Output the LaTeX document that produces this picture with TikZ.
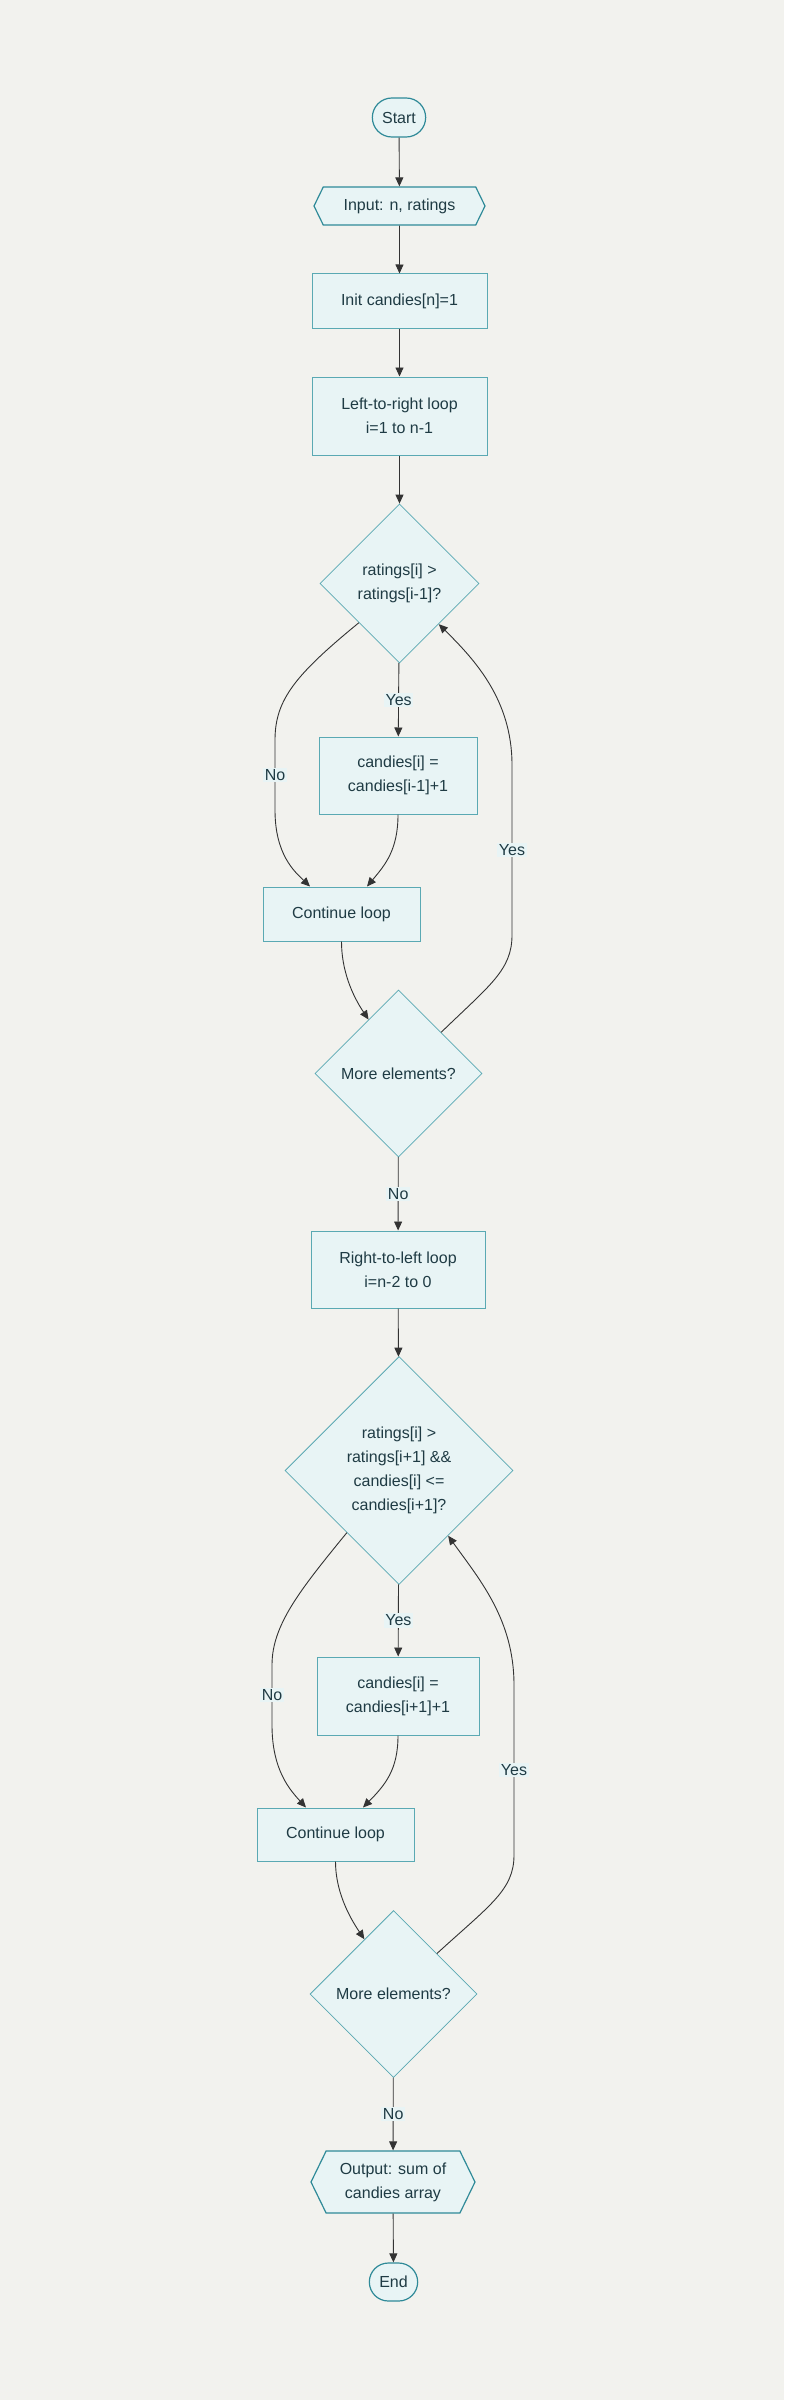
\documentclass[tikz,border=0pt]{standalone}
\usepackage{fontspec}
\setmainfont{Liberation Sans}
\usepackage{tikz}
\usetikzlibrary{positioning}
\usetikzlibrary{shapes.geometric,shapes.misc,shapes.symbols}
\usetikzlibrary{arrows.meta}
\definecolor{bgcol}{HTML}{F2F2EE}
\definecolor{nodefill}{HTML}{E8F4F5}
\definecolor{nodeline}{HTML}{2F8A98}
\definecolor{boxline}{HTML}{5AA9B3}
\definecolor{txtcol}{HTML}{1F3B44}
\definecolor{edgecol}{HTML}{333333}
\tikzset{
  every node/.style={font=\fontsize{16}{24}\selectfont, text=txtcol, align=center},
  term/.style={rounded rectangle, draw=nodeline, fill=nodefill, line width=1.2pt},
  io/.style={signal, signal to=west and east, signal pointer angle=128, draw=nodeline, fill=nodefill, line width=1.2pt},
  procbox/.style={rectangle, draw=boxline, fill=nodefill, line width=1pt},
  decision/.style={diamond, aspect=1, draw=boxline, fill=nodefill, line width=0.8pt, inner sep=0pt},
  arr/.style={draw=edgecol, line width=0.9pt, -{Triangle[length=9pt,width=8pt]}},
  lbl/.style={fill=nodefill, inner sep=1.5pt}
}

\begin{document}
\begin{tikzpicture}[x=1pt,y=-1pt]
            \fill[bgcol] (0,0) rectangle (784,2400);
            \useasboundingbox (0,0) rectangle (784,2400);

            \node[term,minimum width=60,minimum height=39] (start) at (399,117.5) {Start};
            \node[io,minimum width=171,minimum height=38] (input) at (399.5,206) {Input: n, ratings};
            \node[procbox,minimum width=175,minimum height=54] (init) at (399.5,301) {Init candies[n]=1};
            \node[procbox,minimum width=175,minimum height=78] (ltr) at (399.5,416) {Left-to-right loop\\i=1 to n-1};
            \node[decision,minimum size=159] (d1) at (399.5,583.5) {ratings[i] >\\ratings[i-1]?};
            \node[procbox,minimum width=158,minimum height=77] (c1) at (398,775.5) {candies[i] =\\candies[i-1]+1};
            \node[procbox,minimum width=157,minimum height=54] (cont1) at (341.5,914) {Continue loop};
            \node[decision,minimum size=167] (d2) at (398.5,1073.5) {More elements?};
            \node[procbox,minimum width=174,minimum height=77] (rtl) at (398,1269.5) {Right-to-left loop\\i=n-2 to 0};
            \node[decision,minimum size=228] (d3) at (399,1470.5) {ratings[i] >\\ratings[i+1] \&\&\\candies[i] <=\\candies[i+1]?};
            \node[procbox,minimum width=162,minimum height=78] (c2) at (398,1696) {candies[i] =\\candies[i+1]+1};
            \node[procbox,minimum width=157,minimum height=53] (cont2) at (335.5,1834.5) {Continue loop};
            \node[decision,minimum size=167] (d4) at (393.5,1994) {More elements?};
            \node[io,minimum width=164,minimum height=62] (output) at (393,2182) {Output: sum of\\candies array};
            \node[term,minimum width=55,minimum height=38] (stop) at (393.5,2282) {End};

            \draw[arr] (start) -- (input);
            \draw[arr] (input) -- (init);
            \draw[arr] (init) -- (ltr);
            \draw[arr] (ltr) -- (d1);
            \draw[arr] (d1) -- node[lbl]{Yes} (c1);
            \draw[arr] (d1.-136) .. controls (295,675) and (275,700) .. (275,740) -- node[lbl]{No} (275,810) .. controls (275,855) and (295,872) .. ([xshift=-31.5]cont1.north);
            \draw[arr] (c1) .. controls (398,850) and (385,865) .. ([xshift=25.5]cont1.north);
            \draw[arr] (cont1) .. controls (341.5,970) and (352,995) .. (d2.119);
            \draw[arr] (d2.44) .. controls (490,985) and (512,970) .. (512,935) -- node[lbl]{Yes} (512,765) .. controls (512,700) and (475,660) .. (d1.-46);
            \draw[arr] (d2) -- node[lbl]{No} (rtl);
            \draw[arr] (rtl) -- (d3);
            \draw[arr] (d3) -- node[lbl]{Yes} (c2);
            \draw[arr] (d3.-130) .. controls (300,1590) and (272,1625) .. (272,1665) -- node[lbl]{No} (272,1725) .. controls (272,1770) and (290,1790) .. ([xshift=-29.5]cont2.north);
            \draw[arr] (c2) .. controls (398,1770) and (385,1785) .. ([xshift=27.5]cont2.north);
            \draw[arr] (cont2) .. controls (335.5,1890) and (348,1915) .. (d4.118);
            \draw[arr] (d4.43) .. controls (490,1905) and (514,1890) .. (514,1855) -- node[lbl]{Yes} (514,1685) .. controls (514,1620) and (480,1580) .. (d3.-53);
            \draw[arr] (d4) -- node[lbl]{No} (output);
            \draw[arr] (output) -- (stop);
          \end{tikzpicture}
\end{document}
